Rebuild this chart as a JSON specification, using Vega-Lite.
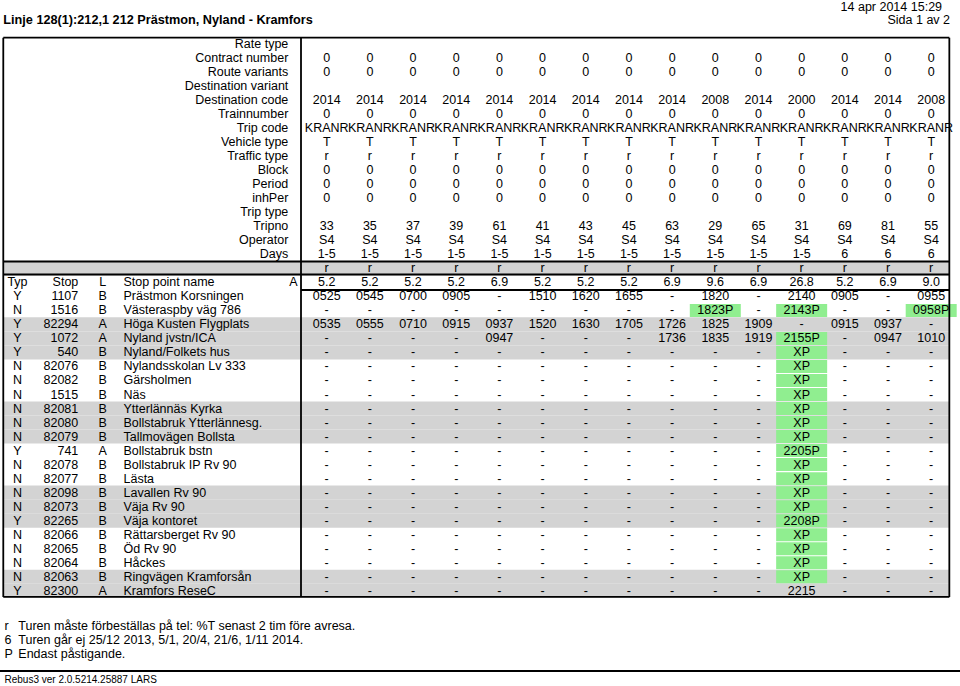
{
"$schema":"https://vega.github.io/schema/vega-lite/v6.json",
"width":960,"height":686,"padding":0,"autosize":{"type":"none"},
"background":"white",
"config":{"view":{"stroke":null},"text":{"font":"Liberation Sans","fontSize":12.5,"baseline":"middle","color":"black"}},
"data":{"values":[{"title":"Linje 128(1):212,1 212 Prästmon, Nyland - Kramfors","printed":"14 apr 2014 15:29","page":"Sida 1 av 2","version":"Rebus3 ver 2.0.5214.25887 LARS"}]},
"datasets":{
"rows":[
{"r":0,"label":"Rate type"},
{"r":1,"label":"Contract number","1":"0","2":"0","3":"0","4":"0","5":"0","6":"0","7":"0","8":"0","9":"0","10":"0","11":"0","12":"0","13":"0","14":"0","15":"0"},
{"r":2,"label":"Route variants","1":"0","2":"0","3":"0","4":"0","5":"0","6":"0","7":"0","8":"0","9":"0","10":"0","11":"0","12":"0","13":"0","14":"0","15":"0"},
{"r":3,"label":"Destination variant"},
{"r":4,"label":"Destination code","1":"2014","2":"2014","3":"2014","4":"2014","5":"2014","6":"2014","7":"2014","8":"2014","9":"2014","10":"2008","11":"2014","12":"2000","13":"2014","14":"2014","15":"2008"},
{"r":5,"label":"Trainnumber","1":"0","2":"0","3":"0","4":"0","5":"0","6":"0","7":"0","8":"0","9":"0","10":"0","11":"0","12":"0","13":"0","14":"0","15":"0"},
{"r":6,"label":"Trip code","1":"KRANR","2":"KRANR","3":"KRANR","4":"KRANR","5":"KRANR","6":"KRANR","7":"KRANR","8":"KRANR","9":"KRANR","10":"KRANR","11":"KRANR","12":"KRANR","13":"KRANR","14":"KRANR","15":"KRANR"},
{"r":7,"label":"Vehicle type","1":"T","2":"T","3":"T","4":"T","5":"T","6":"T","7":"T","8":"T","9":"T","10":"T","11":"T","12":"T","13":"T","14":"T","15":"T"},
{"r":8,"label":"Traffic type","1":"r","2":"r","3":"r","4":"r","5":"r","6":"r","7":"r","8":"r","9":"r","10":"r","11":"r","12":"r","13":"r","14":"r","15":"r"},
{"r":9,"label":"Block","1":"0","2":"0","3":"0","4":"0","5":"0","6":"0","7":"0","8":"0","9":"0","10":"0","11":"0","12":"0","13":"0","14":"0","15":"0"},
{"r":10,"label":"Period","1":"0","2":"0","3":"0","4":"0","5":"0","6":"0","7":"0","8":"0","9":"0","10":"0","11":"0","12":"0","13":"0","14":"0","15":"0"},
{"r":11,"label":"inhPer","1":"0","2":"0","3":"0","4":"0","5":"0","6":"0","7":"0","8":"0","9":"0","10":"0","11":"0","12":"0","13":"0","14":"0","15":"0"},
{"r":12,"label":"Trip type"},
{"r":13,"label":"Tripno","1":"33","2":"35","3":"37","4":"39","5":"61","6":"41","7":"43","8":"45","9":"63","10":"29","11":"65","12":"31","13":"69","14":"81","15":"55"},
{"r":14,"label":"Operator","1":"S4","2":"S4","3":"S4","4":"S4","5":"S4","6":"S4","7":"S4","8":"S4","9":"S4","10":"S4","11":"S4","12":"S4","13":"S4","14":"S4","15":"S4"},
{"r":15,"label":"Days","1":"1-5","2":"1-5","3":"1-5","4":"1-5","5":"1-5","6":"1-5","7":"1-5","8":"1-5","9":"1-5","10":"1-5","11":"1-5","12":"1-5","13":"6","14":"6","15":"6"},
{"r":16,"1":"r","2":"r","3":"r","4":"r","5":"r","6":"r","7":"r","8":"r","9":"r","10":"r","11":"r","12":"r","13":"r","14":"r","15":"r"},
{"r":17,"typ":"Typ","stop":"Stop","l":"L","name":"Stop point name","a":"A","1":"5.2","2":"5.2","3":"5.2","4":"5.2","5":"6.9","6":"5.2","7":"5.2","8":"5.2","9":"6.9","10":"9.6","11":"6.9","12":"26.8","13":"5.2","14":"6.9","15":"9.0"},
{"r":18,"typ":"Y","stop":"1107","l":"B","name":"Prästmon Korsningen","1":"0525","2":"0545","3":"0700","4":"0905","5":"-","6":"1510","7":"1620","8":"1655","9":"-","10":"1820","11":"-","12":"2140","13":"0905","14":"-","15":"0955"},
{"r":19,"typ":"N","stop":"1516","l":"B","name":"Västeraspby väg 786","1":"-","2":"-","3":"-","4":"-","5":"-","6":"-","7":"-","8":"-","9":"-","10":"1823P","11":"-","12":"2143P","13":"-","14":"-","15":"0958P"},
{"r":20,"typ":"Y","stop":"82294","l":"A","name":"Höga Kusten Flygplats","1":"0535","2":"0555","3":"0710","4":"0915","5":"0937","6":"1520","7":"1630","8":"1705","9":"1726","10":"1825","11":"1909","12":"-","13":"0915","14":"0937","15":"-"},
{"r":21,"typ":"Y","stop":"1072","l":"A","name":"Nyland jvstn/ICA","1":"-","2":"-","3":"-","4":"-","5":"0947","6":"-","7":"-","8":"-","9":"1736","10":"1835","11":"1919","12":"2155P","13":"-","14":"0947","15":"1010"},
{"r":22,"typ":"Y","stop":"540","l":"B","name":"Nyland/Folkets hus","1":"-","2":"-","3":"-","4":"-","5":"-","6":"-","7":"-","8":"-","9":"-","10":"-","11":"-","12":"XP","13":"-","14":"-","15":"-"},
{"r":23,"typ":"N","stop":"82076","l":"B","name":"Nylandsskolan Lv 333","1":"-","2":"-","3":"-","4":"-","5":"-","6":"-","7":"-","8":"-","9":"-","10":"-","11":"-","12":"XP","13":"-","14":"-","15":"-"},
{"r":24,"typ":"N","stop":"82082","l":"B","name":"Gärsholmen","1":"-","2":"-","3":"-","4":"-","5":"-","6":"-","7":"-","8":"-","9":"-","10":"-","11":"-","12":"XP","13":"-","14":"-","15":"-"},
{"r":25,"typ":"N","stop":"1515","l":"B","name":"Näs","1":"-","2":"-","3":"-","4":"-","5":"-","6":"-","7":"-","8":"-","9":"-","10":"-","11":"-","12":"XP","13":"-","14":"-","15":"-"},
{"r":26,"typ":"N","stop":"82081","l":"B","name":"Ytterlännäs Kyrka","1":"-","2":"-","3":"-","4":"-","5":"-","6":"-","7":"-","8":"-","9":"-","10":"-","11":"-","12":"XP","13":"-","14":"-","15":"-"},
{"r":27,"typ":"N","stop":"82080","l":"B","name":"Bollstabruk Ytterlännesg.","1":"-","2":"-","3":"-","4":"-","5":"-","6":"-","7":"-","8":"-","9":"-","10":"-","11":"-","12":"XP","13":"-","14":"-","15":"-"},
{"r":28,"typ":"N","stop":"82079","l":"B","name":"Tallmovägen Bollsta","1":"-","2":"-","3":"-","4":"-","5":"-","6":"-","7":"-","8":"-","9":"-","10":"-","11":"-","12":"XP","13":"-","14":"-","15":"-"},
{"r":29,"typ":"Y","stop":"741","l":"A","name":"Bollstabruk bstn","1":"-","2":"-","3":"-","4":"-","5":"-","6":"-","7":"-","8":"-","9":"-","10":"-","11":"-","12":"2205P","13":"-","14":"-","15":"-"},
{"r":30,"typ":"N","stop":"82078","l":"B","name":"Bollstabruk IP Rv 90","1":"-","2":"-","3":"-","4":"-","5":"-","6":"-","7":"-","8":"-","9":"-","10":"-","11":"-","12":"XP","13":"-","14":"-","15":"-"},
{"r":31,"typ":"N","stop":"82077","l":"B","name":"Lästa","1":"-","2":"-","3":"-","4":"-","5":"-","6":"-","7":"-","8":"-","9":"-","10":"-","11":"-","12":"XP","13":"-","14":"-","15":"-"},
{"r":32,"typ":"N","stop":"82098","l":"B","name":"Lavallen Rv 90","1":"-","2":"-","3":"-","4":"-","5":"-","6":"-","7":"-","8":"-","9":"-","10":"-","11":"-","12":"XP","13":"-","14":"-","15":"-"},
{"r":33,"typ":"N","stop":"82073","l":"B","name":"Väja Rv 90","1":"-","2":"-","3":"-","4":"-","5":"-","6":"-","7":"-","8":"-","9":"-","10":"-","11":"-","12":"XP","13":"-","14":"-","15":"-"},
{"r":34,"typ":"Y","stop":"82265","l":"B","name":"Väja kontoret","1":"-","2":"-","3":"-","4":"-","5":"-","6":"-","7":"-","8":"-","9":"-","10":"-","11":"-","12":"2208P","13":"-","14":"-","15":"-"},
{"r":35,"typ":"N","stop":"82066","l":"B","name":"Rättarsberget Rv 90","1":"-","2":"-","3":"-","4":"-","5":"-","6":"-","7":"-","8":"-","9":"-","10":"-","11":"-","12":"XP","13":"-","14":"-","15":"-"},
{"r":36,"typ":"N","stop":"82065","l":"B","name":"Öd Rv 90","1":"-","2":"-","3":"-","4":"-","5":"-","6":"-","7":"-","8":"-","9":"-","10":"-","11":"-","12":"XP","13":"-","14":"-","15":"-"},
{"r":37,"typ":"N","stop":"82064","l":"B","name":"Håckes","1":"-","2":"-","3":"-","4":"-","5":"-","6":"-","7":"-","8":"-","9":"-","10":"-","11":"-","12":"XP","13":"-","14":"-","15":"-"},
{"r":38,"typ":"N","stop":"82063","l":"B","name":"Ringvägen Kramforsån","1":"-","2":"-","3":"-","4":"-","5":"-","6":"-","7":"-","8":"-","9":"-","10":"-","11":"-","12":"XP","13":"-","14":"-","15":"-"},
{"r":39,"typ":"Y","stop":"82300","l":"A","name":"Kramfors ReseC","1":"-","2":"-","3":"-","4":"-","5":"-","6":"-","7":"-","8":"-","9":"-","10":"-","11":"-","12":"2215","13":"-","14":"-","15":"-"}
],
"notes":[
{"n":42,"sym":"r","note":"Turen måste förbeställas på tel: %T senast 2 tim före avresa."},
{"n":43,"sym":"6","note":"Turen går ej 25/12 2013, 5/1, 20/4, 21/6, 1/11 2014."},
{"n":44,"sym":"P","note":"Endast påstigande."}
]
},
"layer":[
{"data":{"name":"rows"},"transform":[{"filter":"datum.r == 16 || (datum.r > 17 && floor((datum.r - 17) / 3) % 2 == 1)"}],
 "mark":{"type":"tick","orient":"horizontal","size":946,"thickness":14.1,"color":"#d3d3d3","opacity":1},
 "encoding":{"x":{"datum":4.465,"type":"quantitative","scale":{"domain":[-6.566,15.667],"nice":false,"zero":false},"axis":null},
 "y":{"field":"r","type":"quantitative","scale":{"domain":[-3.138,45.79],"nice":false,"zero":false,"reverse":true},"axis":null}}},
{"data":{"name":"rows"},"transform":[{"fold":["1","2","3","4","5","6","7","8","9","10","11","12","13","14","15"],"as":["c","t"]},{"filter":"isValid(datum.t) && test(/P$/, datum.t)"}],
 "mark":{"type":"tick","orient":"horizontal","size":51,"thickness":13,"color":"#90ee90","opacity":1},
 "encoding":{"x":{"field":"c","type":"quantitative","scale":{"domain":[-6.566,15.667],"nice":false,"zero":false},"axis":null},
 "y":{"field":"r","type":"quantitative","scale":{"domain":[-3.138,45.79],"nice":false,"zero":false,"reverse":true},"axis":null}}},
{"mark":{"type":"rule","strokeWidth":1.8,"color":"black"},
 "encoding":{"x":{"datum":-6.49,"type":"quantitative","scale":{"domain":[-6.566,15.667],"nice":false,"zero":false},"axis":null},"x2":{"datum":15.42},
 "y":{"datum":-0.449,"type":"quantitative","scale":{"domain":[-3.138,45.79],"nice":false,"zero":false,"reverse":true},"axis":null}}},
{"mark":{"type":"rule","strokeWidth":1.8,"color":"black"},
 "encoding":{"x":{"datum":-6.49,"type":"quantitative","scale":{"domain":[-6.566,15.667],"nice":false,"zero":false},"axis":null},"x2":{"datum":15.42},
 "y":{"datum":39.44,"type":"quantitative","scale":{"domain":[-3.138,45.79],"nice":false,"zero":false,"reverse":true},"axis":null}}},
{"mark":{"type":"rule","strokeWidth":1.8,"color":"black"},
 "encoding":{"x":{"datum":-6.49,"type":"quantitative","scale":{"domain":[-6.566,15.667],"nice":false,"zero":false},"axis":null},"x2":{"datum":15.42},
 "y":{"datum":15.513,"type":"quantitative","scale":{"domain":[-3.138,45.79],"nice":false,"zero":false,"reverse":true},"axis":null}}},
{"mark":{"type":"rule","strokeWidth":1.8,"color":"black"},
 "encoding":{"x":{"datum":-6.49,"type":"quantitative","scale":{"domain":[-6.566,15.667],"nice":false,"zero":false},"axis":null},"x2":{"datum":15.42},
 "y":{"datum":16.441,"type":"quantitative","scale":{"domain":[-3.138,45.79],"nice":false,"zero":false,"reverse":true},"axis":null}}},
{"mark":{"type":"rule","strokeWidth":1.8,"color":"black"},
 "encoding":{"x":{"datum":0.405,"type":"quantitative","scale":{"domain":[-6.566,15.667],"nice":false,"zero":false},"axis":null},"x2":{"datum":15.42},
 "y":{"datum":17.546,"type":"quantitative","scale":{"domain":[-3.138,45.79],"nice":false,"zero":false,"reverse":true},"axis":null}}},
{"mark":{"type":"rule","strokeWidth":1.8,"color":"black"},
 "encoding":{"x":{"datum":-6.566,"type":"quantitative","scale":{"domain":[-6.566,15.667],"nice":false,"zero":false},"axis":null},"x2":{"datum":15.667},
 "y":{"datum":44.72,"type":"quantitative","scale":{"domain":[-3.138,45.79],"nice":false,"zero":false,"reverse":true},"axis":null}}},
{"mark":{"type":"rule","strokeWidth":1.8,"color":"black"},
 "encoding":{"x":{"datum":-6.49,"type":"quantitative","scale":{"domain":[-6.566,15.667],"nice":false,"zero":false},"axis":null},
 "y":{"datum":-0.449,"type":"quantitative","scale":{"domain":[-3.138,45.79],"nice":false,"zero":false,"reverse":true},"axis":null},"y2":{"datum":39.44}}},
{"mark":{"type":"rule","strokeWidth":1.8,"color":"black"},
 "encoding":{"x":{"datum":15.42,"type":"quantitative","scale":{"domain":[-6.566,15.667],"nice":false,"zero":false},"axis":null},
 "y":{"datum":-0.449,"type":"quantitative","scale":{"domain":[-3.138,45.79],"nice":false,"zero":false,"reverse":true},"axis":null},"y2":{"datum":39.44}}},
{"mark":{"type":"rule","strokeWidth":1.8,"color":"black"},
 "encoding":{"x":{"datum":0.405,"type":"quantitative","scale":{"domain":[-6.566,15.667],"nice":false,"zero":false},"axis":null},
 "y":{"datum":-0.449,"type":"quantitative","scale":{"domain":[-3.138,45.79],"nice":false,"zero":false,"reverse":true},"axis":null},"y2":{"datum":39.44}}},
{"mark":{"type":"text","align":"left","fontWeight":"bold","fontSize":12.7},
 "encoding":{"x":{"datum":-6.49,"type":"quantitative","scale":{"domain":[-6.566,15.667],"nice":false,"zero":false},"axis":null},
 "y":{"datum":-1.712,"type":"quantitative","scale":{"domain":[-3.138,45.79],"nice":false,"zero":false,"reverse":true},"axis":null},
 "text":{"field":"title","type":"nominal"}}},
{"mark":{"type":"text","align":"right"},
 "encoding":{"x":{"datum":15.251,"type":"quantitative","scale":{"domain":[-6.566,15.667],"nice":false,"zero":false},"axis":null},
 "y":{"datum":-2.66,"type":"quantitative","scale":{"domain":[-3.138,45.79],"nice":false,"zero":false,"reverse":true},"axis":null},
 "text":{"field":"printed","type":"nominal"}}},
{"mark":{"type":"text","align":"right"},
 "encoding":{"x":{"datum":15.436,"type":"quantitative","scale":{"domain":[-6.566,15.667],"nice":false,"zero":false},"axis":null},
 "y":{"datum":-1.676,"type":"quantitative","scale":{"domain":[-3.138,45.79],"nice":false,"zero":false,"reverse":true},"axis":null},
 "text":{"field":"page","type":"nominal"}}},
{"mark":{"type":"text","align":"left","fontSize":10},
 "encoding":{"x":{"datum":-6.462,"type":"quantitative","scale":{"domain":[-6.566,15.667],"nice":false,"zero":false},"axis":null},
 "y":{"datum":45.36,"type":"quantitative","scale":{"domain":[-3.138,45.79],"nice":false,"zero":false,"reverse":true},"axis":null},
 "text":{"field":"version","type":"nominal"}}},
{"data":{"name":"notes"},"mark":{"type":"text","align":"left","dy":-7},
 "encoding":{"x":{"datum":-6.462,"type":"quantitative","scale":{"domain":[-6.566,15.667],"nice":false,"zero":false},"axis":null},
 "y":{"field":"n","type":"quantitative","scale":{"domain":[-3.138,45.79],"nice":false,"zero":false,"reverse":true},"axis":null},
 "text":{"field":"sym","type":"nominal"}}},
{"data":{"name":"notes"},"mark":{"type":"text","align":"left","dy":-7},
 "encoding":{"x":{"datum":-6.142,"type":"quantitative","scale":{"domain":[-6.566,15.667],"nice":false,"zero":false},"axis":null},
 "y":{"field":"n","type":"quantitative","scale":{"domain":[-3.138,45.79],"nice":false,"zero":false,"reverse":true},"axis":null},
 "text":{"field":"note","type":"nominal"}}},
{"data":{"name":"rows"},"transform":[{"filter":"isValid(datum.label)"}],"mark":{"type":"text","align":"right"},
 "encoding":{"x":{"datum":0.111,"type":"quantitative","scale":{"domain":[-6.566,15.667],"nice":false,"zero":false},"axis":null},
 "y":{"field":"r","type":"quantitative","scale":{"domain":[-3.138,45.79],"nice":false,"zero":false,"reverse":true},"axis":null},
 "text":{"field":"label","type":"nominal"}}},
{"data":{"name":"rows"},"transform":[{"filter":"isValid(datum.typ)"}],"mark":{"type":"text","align":"center"},
 "encoding":{"x":{"datum":-6.161,"type":"quantitative","scale":{"domain":[-6.566,15.667],"nice":false,"zero":false},"axis":null},
 "y":{"field":"r","type":"quantitative","scale":{"domain":[-3.138,45.79],"nice":false,"zero":false,"reverse":true},"axis":null},
 "text":{"field":"typ","type":"nominal"}}},
{"data":{"name":"rows"},"transform":[{"filter":"isValid(datum.stop)"}],"mark":{"type":"text","align":"right"},
 "encoding":{"x":{"datum":-4.753,"type":"quantitative","scale":{"domain":[-6.566,15.667],"nice":false,"zero":false},"axis":null},
 "y":{"field":"r","type":"quantitative","scale":{"domain":[-3.138,45.79],"nice":false,"zero":false,"reverse":true},"axis":null},
 "text":{"field":"stop","type":"nominal"}}},
{"data":{"name":"rows"},"transform":[{"filter":"isValid(datum.l)"}],"mark":{"type":"text","align":"center"},
 "encoding":{"x":{"datum":-4.1875,"type":"quantitative","scale":{"domain":[-6.566,15.667],"nice":false,"zero":false},"axis":null},
 "y":{"field":"r","type":"quantitative","scale":{"domain":[-3.138,45.79],"nice":false,"zero":false,"reverse":true},"axis":null},
 "text":{"field":"l","type":"nominal"}}},
{"data":{"name":"rows"},"transform":[{"filter":"isValid(datum.name)"}],"mark":{"type":"text","align":"left"},
 "encoding":{"x":{"datum":-3.706,"type":"quantitative","scale":{"domain":[-6.566,15.667],"nice":false,"zero":false},"axis":null},
 "y":{"field":"r","type":"quantitative","scale":{"domain":[-3.138,45.79],"nice":false,"zero":false,"reverse":true},"axis":null},
 "text":{"field":"name","type":"nominal"}}},
{"data":{"name":"rows"},"transform":[{"filter":"isValid(datum.a)"}],"mark":{"type":"text","align":"right"},
 "encoding":{"x":{"datum":0.324,"type":"quantitative","scale":{"domain":[-6.566,15.667],"nice":false,"zero":false},"axis":null},
 "y":{"field":"r","type":"quantitative","scale":{"domain":[-3.138,45.79],"nice":false,"zero":false,"reverse":true},"axis":null},
 "text":{"field":"a","type":"nominal"}}},
{"data":{"name":"rows"},"transform":[{"fold":["1","2","3","4","5","6","7","8","9","10","11","12","13","14","15"],"as":["c","t"]},{"filter":"isValid(datum.t)"}],
 "mark":{"type":"text","align":"center"},
 "encoding":{"x":{"field":"c","type":"quantitative","scale":{"domain":[-6.566,15.667],"nice":false,"zero":false},"axis":null},
 "y":{"field":"r","type":"quantitative","scale":{"domain":[-3.138,45.79],"nice":false,"zero":false,"reverse":true},"axis":null},
 "text":{"field":"t","type":"nominal"}}}
]
}
